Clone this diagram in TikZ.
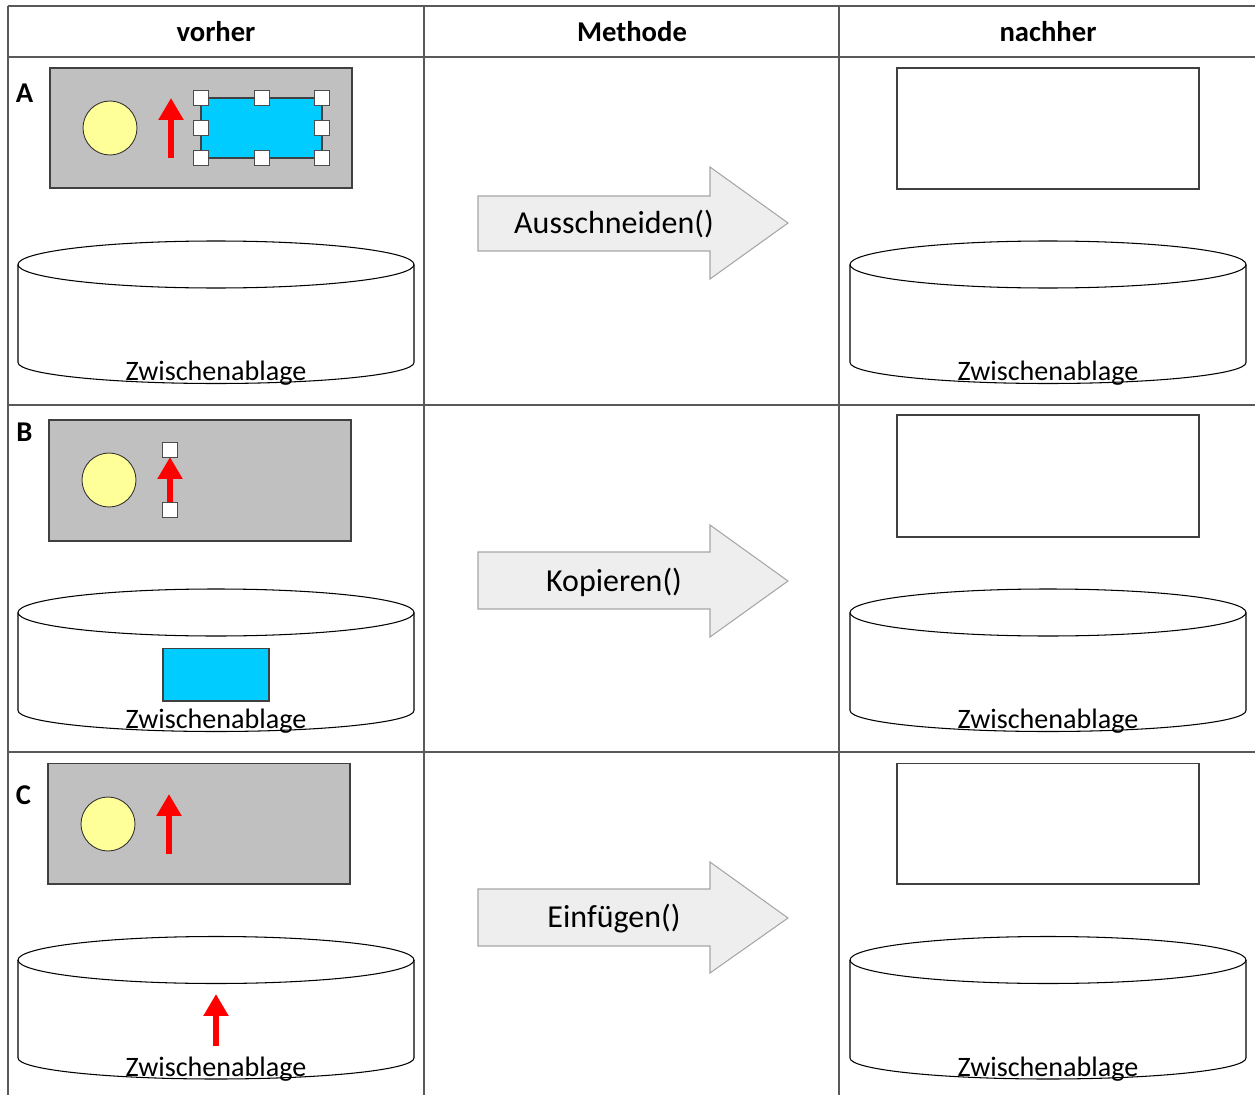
\documentclass[tikz,border=0pt]{standalone}
\usepackage{fontspec}
\setmainfont{Carlito}
\usetikzlibrary{arrows.meta}

\definecolor{panelgray}{HTML}{C0C0C0}
\definecolor{sunyellow}{HTML}{FFFF99}
\definecolor{objcyan}{HTML}{00CCFF}
\definecolor{methfill}{HTML}{EEEEEE}
\definecolor{methline}{HTML}{A6A6A6}
\definecolor{gridline}{HTML}{595959}

\tikzset{
    grid/.style={draw=gridline, line width=0.6pt},
    panel/.style={draw=black!75, fill=panelgray, line width=0.6pt},
    sun/.style={circle, draw=black!80, fill=sunyellow, minimum size=1.08cm, inner sep=0pt, line width=0.5pt},
    handle/.style={draw=black!70, fill=white, minimum size=0.3cm, inner sep=0pt, line width=0.5pt},
    redarrow/.style={red, line width=3.4pt, -{Triangle[width=13.6pt, length=12.5pt]}},
    methode/.style={draw=methline, fill=methfill, line width=0.6pt},
    methtext/.style={anchor=base, font=\fontsize{18.2}{22}\selectfont},
    colhead/.style={anchor=base, font=\bfseries\fontsize{16.3}{20}\selectfont},
    rowlabel/.style={font=\bfseries\fontsize{16.3}{20}\selectfont},
    ablage/.style={anchor=base, font=\fontsize{16}{18}\selectfont},
}

\begin{document}
\begin{tikzpicture}[x=0.02cm, y=-0.02cm]
    \useasboundingbox (0,0) rectangle (1255,1095);

    % table
    \foreach \gy in {6, 57, 405, 752} {
        \draw[grid] (8,\gy) -- (1255,\gy);
    }
    \foreach \gx in {8, 424, 839} {
        \draw[grid] (\gx,6) -- (\gx,1095);
    }
    \node[colhead] (vorher) at (216,41.5) {vorher};
    \node[colhead] (methode) at (632,41.5) {Methode};
    \node[colhead] (nachher) at (1048,41.5) {nachher};

    \node[rowlabel] (labA) at (24.5,93.5) {A};
    \node[rowlabel] (labB) at (24.5,432) {B};
    \node[rowlabel] (labC) at (23.5,795) {C};

    % clipboards
    \foreach \cx/\cy [count=\i] in {216/264.5, 216/612.5, 216/960, 1048/264.5, 1048/612.5, 1048/960} {
        \draw[line width=0.6pt] (\cx-198,\cy) -- (\cx-198,\cy+98)
            arc[start angle=180, end angle=0, x radius=198, y radius=21] -- (\cx+198,\cy);
        \draw[line width=0.6pt] (\cx,\cy) ellipse [x radius=198, y radius=23.5];
        \node[ablage] (zw\i) at (\cx,\cy+116) {Zwischenablage};
    }

    % row A
    \draw[panel] (50,68) rectangle (352,188);
    \node[sun] (sunA) at (110,128) {};
    \draw[redarrow] (171,158) -- (171,98);
    \draw[draw=black!75, fill=objcyan, line width=0.6pt] (201,98) rectangle (322,158);
    \foreach \hx/\hy [count=\i] in {201/98, 261.5/98, 322/98, 201/128, 322/128, 201/158, 261.5/158, 322/158} {
        \node[handle] (hA\i) at (\hx,\hy) {};
    }

    % row B
    \draw[panel] (49,420) rectangle (351,541);
    \node[sun] (sunB) at (109,480) {};
    \draw[redarrow] (170,510) -- (170,457);
    \node[handle] (hB1) at (170,450) {};
    \node[handle] (hB2) at (170,510) {};
    \draw[draw=black!75, fill=objcyan, line width=0.6pt] (163,648.5) rectangle (269,701);

    % row C
    \draw[panel] (48,763.5) rectangle (350,884);
    \node[sun] (sunC) at (108,824) {};
    \draw[redarrow] (169,854) -- (169,794);
    \draw[redarrow] (216,1046) -- (216,994);

    % methods
    \draw[methode] (478,196) -- (710,196) -- (710,167) -- (788,223) -- (710,279) -- (710,251) -- (478,251) -- cycle;
    \node[methtext] (cut) at (614,234) {Ausschneiden()};
    \draw[methode] (478,552) -- (710,552) -- (710,525) -- (788,581) -- (710,637) -- (710,609) -- (478,609) -- cycle;
    \node[methtext] (copy) at (614,591.5) {Kopieren()};
    \draw[methode] (478,889) -- (710,889) -- (710,862) -- (788,918) -- (710,973) -- (710,946) -- (478,946) -- cycle;
    \node[methtext] (paste) at (614,927.5) {Einfügen()};

    % after
    \draw[draw=black!75, line width=0.6pt] (897,68) rectangle (1199,189);
    \draw[draw=black!75, line width=0.6pt] (897,415) rectangle (1199,537);
    \draw[draw=black!75, line width=0.6pt] (897,763.5) rectangle (1199,884);
\end{tikzpicture}
\end{document}
